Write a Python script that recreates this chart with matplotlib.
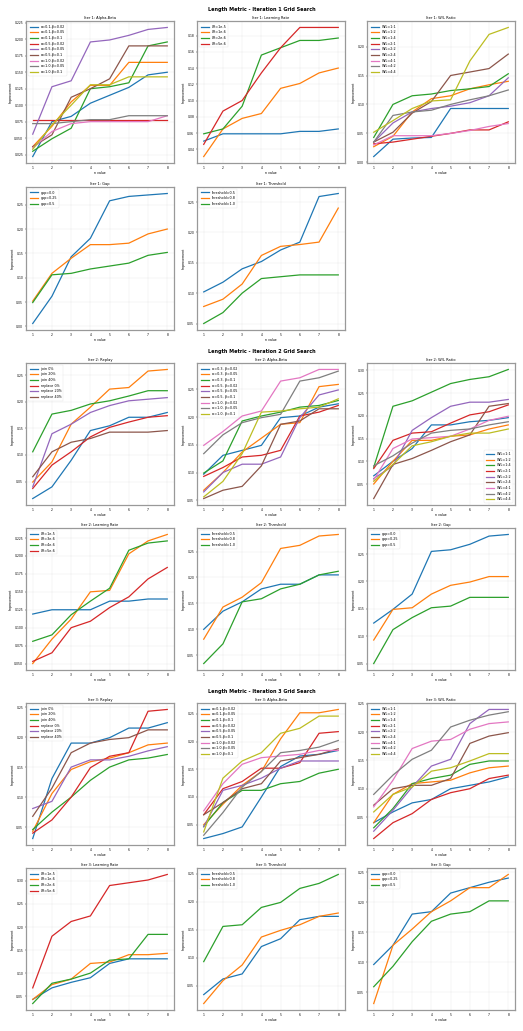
import numpy as np
import matplotlib
matplotlib.use("Agg")
import matplotlib.pyplot as plt

n_values = [1, 2, 3, 4, 5, 6, 7, 8]

# ---------- labels ----------
ab_labels_1 = ["α=0.1,β=0.02", "α=0.1,β=0.05", "α=0.1,β=0.1",
               "α=0.5,β=0.02", "α=0.5,β=0.05", "α=0.5,β=0.1",
               "α=1.0,β=0.02", "α=1.0,β=0.05", "α=1.0,β=0.1"]
ab_labels_2 = ["α=0.3, β=0.02", "α=0.3, β=0.05", "α=0.3, β=0.1",
               "α=0.5, β=0.02", "α=0.5, β=0.05", "α=0.5, β=0.1",
               "α=1.0, β=0.02", "α=1.0, β=0.05", "α=1.0, β=0.1"]
wl_labels = ["W/L=1:1", "W/L=1:2", "W/L=1:4", "W/L=2:1", "W/L=2:2",
             "W/L=2:4", "W/L=4:1", "W/L=4:2", "W/L=4:4"]
lr_labels_1 = ["LR=1e-5", "LR=1e-6", "LR=2e-6", "LR=5e-6"]
lr_labels_2 = ["LR=1e-5", "LR=3e-6", "LR=4e-6", "LR=5e-6"]
gap_labels = ["gap=0.0", "gap=0.25", "gap=0.5"]
thr_labels = ["threshold=0.5", "threshold=0.8", "threshold=1.0"]
replay_labels = ["join 0%", "join 20%", "join 40%",
                 "replace 0%", "replace 20%", "replace 40%"]

# ---------- iteration 1 ----------
it1_ab = [
    [0.022, 0.075, 0.083, 0.103, 0.115, 0.127, 0.146, 0.150],
    [0.037, 0.068, 0.105, 0.130, 0.130, 0.165, 0.165, 0.165],
    [0.030, 0.049, 0.065, 0.125, 0.128, 0.134, 0.190, 0.196],
    [0.078, 0.078, 0.078, 0.078, 0.078, 0.078, 0.078, 0.078],
    [0.056, 0.128, 0.137, 0.196, 0.199, 0.206, 0.215, 0.218],
    [0.037, 0.055, 0.112, 0.125, 0.140, 0.190, 0.190, 0.190],
    [0.035, 0.060, 0.072, 0.075, 0.075, 0.075, 0.075, 0.084],
    [0.072, 0.072, 0.075, 0.078, 0.078, 0.084, 0.084, 0.084],
    [0.033, 0.070, 0.100, 0.131, 0.131, 0.143, 0.143, 0.143],
]
it1_lr = [
    [0.050, 0.059, 0.059, 0.059, 0.059, 0.062, 0.062, 0.065],
    [0.031, 0.065, 0.078, 0.084, 0.115, 0.121, 0.134, 0.140],
    [0.059, 0.065, 0.093, 0.156, 0.165, 0.174, 0.174, 0.177],
    [0.046, 0.087, 0.100, 0.134, 0.165, 0.190, 0.190, 0.190],
]
it1_wl = [
    [0.010, 0.040, 0.042, 0.043, 0.093, 0.093, 0.093, 0.093],
    [0.027, 0.045, 0.087, 0.110, 0.115, 0.127, 0.134, 0.140],
    [0.043, 0.100, 0.115, 0.118, 0.124, 0.127, 0.131, 0.153],
    [0.032, 0.035, 0.040, 0.045, 0.050, 0.056, 0.056, 0.070],
    [0.035, 0.068, 0.087, 0.093, 0.097, 0.103, 0.115, 0.146],
    [0.035, 0.052, 0.085, 0.105, 0.150, 0.156, 0.162, 0.187],
    [0.030, 0.046, 0.046, 0.046, 0.050, 0.055, 0.062, 0.067],
    [0.035, 0.081, 0.087, 0.090, 0.100, 0.108, 0.115, 0.125],
    [0.052, 0.072, 0.093, 0.106, 0.108, 0.175, 0.221, 0.233],
]
it1_gap = [
    [0.006, 0.062, 0.143, 0.181, 0.258, 0.267, 0.270, 0.273],
    [0.052, 0.109, 0.140, 0.168, 0.168, 0.171, 0.190, 0.200],
    [0.049, 0.106, 0.109, 0.118, 0.124, 0.130, 0.146, 0.152],
]
it1_thr = [
    [0.102, 0.118, 0.140, 0.152, 0.171, 0.184, 0.259, 0.264],
    [0.078, 0.090, 0.115, 0.162, 0.177, 0.180, 0.184, 0.240],
    [0.050, 0.068, 0.100, 0.124, 0.127, 0.130, 0.130, 0.130],
]

# ---------- iteration 2 ----------
it2_replay = [
    [0.018, 0.040, 0.090, 0.146, 0.155, 0.171, 0.171, 0.180],
    [0.049, 0.087, 0.158, 0.190, 0.224, 0.227, 0.258, 0.261],
    [0.106, 0.177, 0.184, 0.196, 0.202, 0.211, 0.221, 0.221],
    [0.037, 0.081, 0.106, 0.134, 0.152, 0.162, 0.171, 0.174],
    [0.040, 0.140, 0.158, 0.180, 0.193, 0.202, 0.205, 0.208],
    [0.059, 0.106, 0.124, 0.131, 0.143, 0.143, 0.143, 0.146],
]
it2_ab = [
    [0.097, 0.131, 0.140, 0.149, 0.199, 0.202, 0.218, 0.224],
    [0.068, 0.100, 0.137, 0.162, 0.187, 0.190, 0.255, 0.259],
    [0.099, 0.121, 0.193, 0.202, 0.209, 0.218, 0.221, 0.230],
    [0.093, 0.109, 0.128, 0.131, 0.140, 0.202, 0.209, 0.221],
    [0.065, 0.100, 0.115, 0.115, 0.128, 0.199, 0.240, 0.249],
    [0.053, 0.068, 0.075, 0.112, 0.187, 0.193, 0.215, 0.215],
    [0.149, 0.174, 0.202, 0.211, 0.265, 0.271, 0.286, 0.286],
    [0.134, 0.168, 0.190, 0.199, 0.205, 0.265, 0.271, 0.283],
    [0.056, 0.084, 0.134, 0.209, 0.211, 0.215, 0.218, 0.233],
]
it2_wl = [
    [0.068, 0.100, 0.128, 0.180, 0.180, 0.187, 0.190, 0.196],
    [0.050, 0.100, 0.146, 0.146, 0.155, 0.158, 0.171, 0.180],
    [0.087, 0.221, 0.233, 0.252, 0.271, 0.280, 0.286, 0.302],
    [0.084, 0.146, 0.162, 0.165, 0.184, 0.202, 0.209, 0.224],
    [0.062, 0.090, 0.168, 0.196, 0.221, 0.230, 0.230, 0.236],
    [0.018, 0.093, 0.106, 0.124, 0.143, 0.158, 0.221, 0.227],
    [0.059, 0.128, 0.149, 0.152, 0.155, 0.171, 0.190, 0.199],
    [0.090, 0.112, 0.140, 0.162, 0.168, 0.171, 0.180, 0.187],
    [0.056, 0.093, 0.134, 0.143, 0.155, 0.162, 0.162, 0.171],
]
it2_lr = [
    [0.119, 0.125, 0.125, 0.125, 0.137, 0.137, 0.140, 0.140],
    [0.050, 0.084, 0.112, 0.150, 0.152, 0.203, 0.221, 0.230],
    [0.081, 0.090, 0.118, 0.137, 0.155, 0.208, 0.218, 0.221],
    [0.053, 0.065, 0.100, 0.109, 0.128, 0.143, 0.168, 0.184],
]
it2_thr = [
    [0.100, 0.135, 0.153, 0.178, 0.187, 0.187, 0.205, 0.205],
    [0.081, 0.143, 0.162, 0.190, 0.256, 0.262, 0.280, 0.283],
    [0.034, 0.072, 0.153, 0.159, 0.178, 0.187, 0.205, 0.212],
]
it2_gap = [
    [0.124, 0.149, 0.177, 0.255, 0.258, 0.268, 0.283, 0.286],
    [0.093, 0.149, 0.152, 0.177, 0.193, 0.199, 0.209, 0.209],
    [0.050, 0.112, 0.134, 0.152, 0.155, 0.171, 0.171, 0.171],
]

# ---------- iteration 3 ----------
it3_replay = [
    [0.031, 0.131, 0.190, 0.190, 0.199, 0.215, 0.215, 0.224],
    [0.043, 0.106, 0.146, 0.159, 0.165, 0.174, 0.187, 0.190],
    [0.046, 0.075, 0.100, 0.128, 0.150, 0.162, 0.165, 0.171],
    [0.040, 0.062, 0.100, 0.149, 0.168, 0.174, 0.243, 0.246],
    [0.081, 0.093, 0.150, 0.162, 0.162, 0.168, 0.177, 0.184],
    [0.068, 0.115, 0.174, 0.190, 0.196, 0.199, 0.212, 0.212],
]
it3_ab = [
    [0.025, 0.034, 0.046, 0.100, 0.155, 0.174, 0.177, 0.184],
    [0.050, 0.087, 0.121, 0.146, 0.205, 0.252, 0.252, 0.258],
    [0.047, 0.090, 0.112, 0.112, 0.124, 0.128, 0.143, 0.150],
    [0.068, 0.115, 0.128, 0.152, 0.152, 0.162, 0.215, 0.218],
    [0.046, 0.112, 0.121, 0.134, 0.152, 0.165, 0.165, 0.165],
    [0.068, 0.090, 0.115, 0.124, 0.165, 0.171, 0.177, 0.187],
    [0.075, 0.124, 0.159, 0.171, 0.174, 0.177, 0.184, 0.184],
    [0.031, 0.072, 0.118, 0.146, 0.180, 0.184, 0.190, 0.202],
    [0.037, 0.134, 0.165, 0.180, 0.215, 0.224, 0.246, 0.246],
]
it3_wl = [
    [0.040, 0.059, 0.075, 0.081, 0.100, 0.106, 0.112, 0.121],
    [0.040, 0.090, 0.109, 0.112, 0.115, 0.128, 0.137, 0.140],
    [0.031, 0.065, 0.109, 0.118, 0.124, 0.143, 0.149, 0.149],
    [0.012, 0.040, 0.056, 0.081, 0.093, 0.100, 0.118, 0.124],
    [0.025, 0.062, 0.103, 0.140, 0.152, 0.215, 0.240, 0.240],
    [0.071, 0.100, 0.106, 0.106, 0.118, 0.180, 0.193, 0.199],
    [0.068, 0.115, 0.171, 0.184, 0.187, 0.205, 0.215, 0.218],
    [0.090, 0.124, 0.152, 0.168, 0.209, 0.221, 0.230, 0.236],
    [0.059, 0.090, 0.103, 0.131, 0.137, 0.149, 0.162, 0.162],
]
it3_lr = [
    [0.043, 0.068, 0.080, 0.090, 0.121, 0.131, 0.131, 0.131],
    [0.043, 0.075, 0.087, 0.121, 0.124, 0.140, 0.140, 0.143],
    [0.034, 0.078, 0.087, 0.100, 0.128, 0.131, 0.184, 0.184],
    [0.068, 0.180, 0.212, 0.224, 0.290, 0.296, 0.302, 0.314],
]
it3_thr = [
    [0.034, 0.062, 0.071, 0.120, 0.134, 0.168, 0.174, 0.174],
    [0.018, 0.059, 0.087, 0.137, 0.149, 0.159, 0.174, 0.180],
    [0.093, 0.156, 0.159, 0.190, 0.199, 0.224, 0.233, 0.249],
]
it3_gap = [
    [0.096, 0.128, 0.180, 0.184, 0.215, 0.224, 0.233, 0.240],
    [0.031, 0.128, 0.155, 0.184, 0.202, 0.224, 0.224, 0.246],
    [0.059, 0.093, 0.134, 0.168, 0.180, 0.184, 0.202, 0.202],
]

W, H = 523, 1031
fig = plt.figure(figsize=(W / 100, H / 100), dpi=100)

col_left = [26, 197, 367]
ax_w = 148
rows = [(21, 163), (187, 330), (363, 505), (528, 670), (703, 845), (868, 1010)]
section_y = [9, 351, 692]


def panel(row, col, title, series, labels, legend_loc="upper left"):
    top, bottom = rows[row]
    ax = fig.add_axes([col_left[col] / W, 1 - bottom / H, ax_w / W, (bottom - top) / H])
    for vals, lab in zip(series, labels):
        ax.plot(n_values, vals, lw=0.9, label=lab)
    ax.set_title(title, fontsize=2.6, pad=1.5)
    ax.set_xlabel("n value", fontsize=2.3, labelpad=1)
    ax.set_ylabel("Improvement", fontsize=2.3, labelpad=1)
    ax.set_xticks(n_values)
    ax.tick_params(labelsize=2.2, length=1, width=0.3, pad=1)
    ax.grid(True, alpha=0.3, lw=0.3)
    for s in ax.spines.values():
        s.set_color("#999999")
        s.set_linewidth(0.9)
    leg = ax.legend(loc=legend_loc, fontsize=2.4, handlelength=2.5, frameon=True,
                    framealpha=0.8, edgecolor="#dddddd", borderpad=0.5,
                    labelspacing=0.5, borderaxespad=0.6)
    leg.get_frame().set_linewidth(0.3)
    return ax


for i, y in enumerate(section_y):
    fig.text(0.5, 1 - y / H, f"Length Metric - Iteration {i + 1} Grid Search",
             ha="center", va="center", fontsize=3.5, fontweight="bold")

panel(0, 0, "Iter 1: Alpha-Beta", it1_ab, ab_labels_1)
panel(0, 1, "Iter 1: Learning Rate", it1_lr, lr_labels_1)
panel(0, 2, "Iter 1: W/L Ratio", it1_wl, wl_labels)
panel(1, 0, "Iter 1: Gap", it1_gap, gap_labels)
panel(1, 1, "Iter 1: Threshold", it1_thr, thr_labels)

panel(2, 0, "Iter 2: Replay", it2_replay, replay_labels)
panel(2, 1, "Iter 2: Alpha-Beta", it2_ab, ab_labels_2)
panel(2, 2, "Iter 2: W/L Ratio", it2_wl, wl_labels, legend_loc="lower right")
panel(3, 0, "Iter 2: Learning Rate", it2_lr, lr_labels_2)
panel(3, 1, "Iter 2: Threshold", it2_thr, thr_labels)
panel(3, 2, "Iter 2: Gap", it2_gap, gap_labels)

panel(4, 0, "Iter 3: Replay", it3_replay, replay_labels)
panel(4, 1, "Iter 3: Alpha-Beta", it3_ab, ab_labels_1)
panel(4, 2, "Iter 3: W/L Ratio", it3_wl, wl_labels)
panel(5, 0, "Iter 3: Learning Rate", it3_lr, lr_labels_1)
panel(5, 1, "Iter 3: Threshold", it3_thr, thr_labels)
panel(5, 2, "Iter 3: Gap", it3_gap, gap_labels)

fig.savefig("out.png", dpi=100)
